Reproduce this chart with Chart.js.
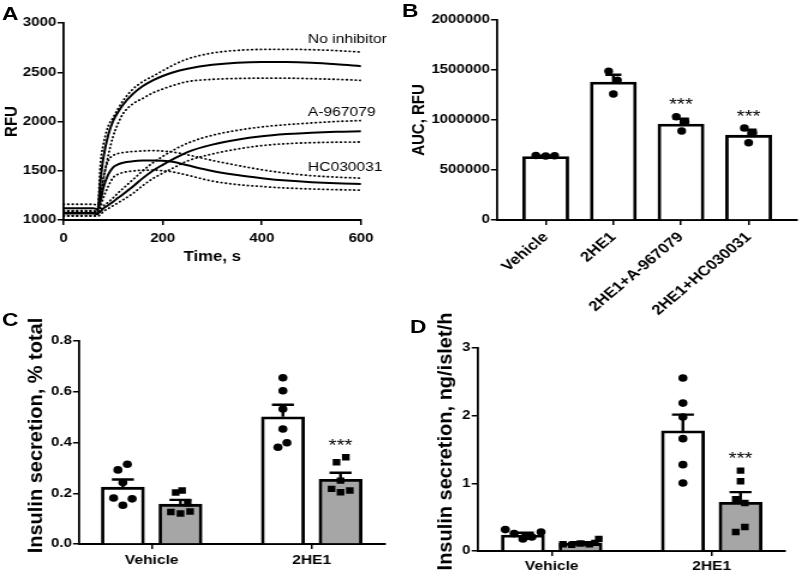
<!DOCTYPE html>
<html>
<head>
<meta charset="utf-8">
<script src="https://cdn.jsdelivr.net/npm/chart.js@4.4.0/dist/chart.umd.min.js"></script>
<style>
  html, body { margin: 0; padding: 0; background: #fff; }
  #page { position: relative; width: 800px; height: 574px; overflow: hidden; }
  /* the figure is horizontally stretched; draw narrow and widen */
  #page canvas { position: absolute; transform: scaleX(1.2); transform-origin: 0 0; }
  .tag { position: absolute; font: bold 19px 'Liberation Sans', Arial, sans-serif; line-height: 1; color: #000;
         transform: scaleX(1.2); transform-origin: left top; }
</style>
</head>
<body>
<div id="page">
  <canvas id="chartA" width="334" height="280" style="left:0;top:0"></canvas>
  <canvas id="chartB" width="334" height="320" style="left:400px;top:0"></canvas>
  <canvas id="chartC" width="334" height="274" style="left:0;top:300px"></canvas>
  <canvas id="chartD" width="334" height="274" style="left:400px;top:300px"></canvas>
  <div class="tag" style="left:2px;top:4px">A</div>
  <div class="tag" style="left:402px;top:1px">B</div>
  <div class="tag" style="left:2px;top:310px">C</div>
  <div class="tag" style="left:410px;top:317px">D</div>
</div>
<script>
// ---- Panel A: fluorescence traces (mean and +/- SD) ----
const timeS = [0, 60, 68, 75, 80, 90, 100, 110, 120, 140, 160, 180, 200, 220, 250, 300, 350, 400, 450, 500, 550, 600];
const noInhMean = [1070, 1070, 1065, 1420, 1620, 1860, 2005, 2095, 2170, 2280, 2360, 2418, 2462, 2498, 2535, 2575, 2597, 2605, 2604, 2596, 2581, 2562];
const noInhUp   = [1095, 1095, 1085, 1600, 1760, 1950, 2040, 2130, 2210, 2330, 2405, 2460, 2515, 2570, 2635, 2695, 2722, 2732, 2733, 2729, 2720, 2705];
const noInhLo   = [1045, 1045, 1045, 1250, 1400, 1650, 1850, 1980, 2080, 2180, 2235, 2290, 2330, 2365, 2405, 2428, 2437, 2440, 2440, 2435, 2428, 2418];
const a967Mean  = [1065, 1065, 1060, 1090, 1115, 1150, 1185, 1225, 1262, 1340, 1425, 1500, 1560, 1615, 1690, 1765, 1815, 1850, 1872, 1887, 1896, 1900];
const a967Up    = [1090, 1090, 1080, 1100, 1140, 1180, 1225, 1275, 1320, 1410, 1500, 1580, 1645, 1705, 1780, 1860, 1910, 1945, 1968, 1985, 2000, 2010];
const a967Lo    = [1040, 1040, 1040, 1055, 1085, 1115, 1145, 1175, 1205, 1270, 1350, 1420, 1475, 1525, 1600, 1670, 1720, 1755, 1775, 1785, 1790, 1792];
const hcMean    = [1120, 1120, 1110, 1200, 1320, 1460, 1535, 1565, 1582, 1596, 1603, 1605, 1602, 1592, 1555, 1497, 1456, 1425, 1400, 1383, 1372, 1366];
const hcUp      = [1160, 1160, 1150, 1260, 1420, 1600, 1655, 1675, 1685, 1695, 1702, 1705, 1700, 1690, 1662, 1605, 1555, 1510, 1475, 1450, 1435, 1425];
const hcLo      = [1080, 1080, 1075, 1140, 1220, 1340, 1430, 1465, 1482, 1498, 1505, 1507, 1500, 1488, 1455, 1395, 1360, 1340, 1325, 1315, 1308, 1303];
const traceNames = ['No inhibitor', 'A-967079', 'HC030031'];
const traceNameAt = [[493, 2834], [493, 2090], [493, 1530]]; // [time, RFU] where each name sits

// ---- Panel B: AUC ----
const groupsB = ['Vehicle', '2HE1', '2HE1+A-967079', '2HE1+HC030031'];
const aucMean = [635000, 1380000, 960000, 848000];
const aucSem  = [8000, 73000, 53000, 55000];
const aucPts  = [[645000, 640000, 642000], [1487000, 1397000, 1260000], [1033000, 980000, 890000], [920000, 873000, 773000]];
const aucSig  = ['', '', '***', '***'];
const jitB    = [[-0.147, 0, 0.132], [-0.07, 0.06, 0], [-0.07, 0.06, 0.01], [-0.063, 0.063, 0]];

// ---- Panels C and D: insulin secretion (white = without, grey = with inhibitor) ----
const groupsCD = ['Vehicle', '2HE1'];
const pctWMean = [0.224, 0.501];
const pctWSem  = [0.030, 0.048];
const pctWPts  = [[0.292, 0.314, 0.242, 0.181, 0.178, 0.153], [0.655, 0.604, 0.532, 0.453, 0.381, 0.399]];
const pctGMean = [0.157, 0.255];
const pctGSem  = [0.017, 0.026];
const pctGPts  = [[0.203, 0.211, 0.160, 0.126, 0.120, 0.128], [0.322, 0.342, 0.250, 0.217, 0.204, 0.211]];
const pctGSig  = ['', '***'];
const ngWMean  = [0.235, 1.775];
const ngWSem   = [0.035, 0.24];
const ngWPts   = [[0.316, 0.257, 0.177, 0.207, 0.281, 0.22], [2.556, 2.186, 1.98, 1.66, 1.276, 1.004]];
const ngGMean  = [0.115, 0.72];
const ngGSem   = [0.015, 0.15];
const ngGPts   = [[0.10, 0.09, 0.11, 0.10, 0.12, 0.177], [1.187, 1.03, 0.764, 0.71, 0.355, 0.281]];
const ngGSig   = ['', '***'];
const jitCW = [[-0.031, 0.028, 0, -0.058, 0.058, 0], [0, 0, 0, 0, -0.031, 0.025]];
const jitCG = [[-0.03, 0.01, 0.045, -0.06, 0, 0.06], [-0.025, 0.033, 0, -0.056, 0, 0.058]];
const jitDW = [[-0.11, -0.055, 0, 0.056, 0.113, 0.03], [0, 0, 0, 0, 0, 0]];
const jitDG = [[-0.11, -0.055, 0, 0.055, 0.09, 0.114], [0, 0, -0.03, 0.027, 0.027, -0.03]];

const FONT = "'Liberation Sans', Arial, sans-serif";
Chart.defaults.font.family = FONT;
Chart.defaults.color = '#000';
Chart.defaults.animation = false;
Chart.defaults.plugins.legend.display = false;
Chart.defaults.plugins.tooltip.enabled = false;

const S = 1.2;          // horizontal stretch applied by CSS
const W = 334;          // canvas width before stretch
const GREY = '#a6a6a6';
const SIDE = 0.18;      // half distance between paired bars, in group units
const TICK = 12.5;      // tick label size

// error bars (upward SEM) drawn right after their bar dataset
const errorBars = {
  id: 'errorBars',
  afterDatasetDraw(chart, args) {
    const ds = chart.data.datasets[args.index];
    if (!ds.sem) return;
    const ctx = chart.ctx, y = chart.scales.y;
    ctx.save();
    ctx.strokeStyle = '#000';
    ctx.lineWidth = 2.4;
    args.meta.data.forEach((bar, j) => {
      const top = y.getPixelForValue(ds.data[j].y + ds.sem[j]);
      ctx.beginPath();
      ctx.moveTo(bar.x, bar.y);
      ctx.lineTo(bar.x, top);
      ctx.moveTo(bar.x - ds.capW / 2, top);
      ctx.lineTo(bar.x + ds.capW / 2, top);
      ctx.stroke();
    });
    ctx.restore();
  }
};

// significance stars above the highest mark of a bar
const starMarks = {
  id: 'starMarks',
  afterDraw(chart) {
    const ctx = chart.ctx, y = chart.scales.y;
    chart.data.datasets.forEach((ds, i) => {
      if (!ds.stars) return;
      chart.getDatasetMeta(i).data.forEach((bar, j) => {
        if (!ds.stars[j]) return;
        const hi = Math.max(ds.data[j].y + ds.sem[j], ...ds.pts[j]);
        ctx.save();
        ctx.font = '17px ' + FONT;
        ctx.textAlign = 'center';
        ctx.textBaseline = 'middle';
        ctx.fillStyle = '#000';
        ctx.fillText(ds.stars[j], bar.x, y.getPixelForValue(hi) - 11);
        ctx.restore();
      });
    });
  }
};

// long rotated y title, a little above the plot's middle and not widened
const sideTitle = {
  id: 'sideTitle',
  afterDraw(chart, args, opts) {
    if (!opts.text) return;
    const ctx = chart.ctx, a = chart.chartArea;
    ctx.save();
    ctx.translate(opts.x, (a.top + a.bottom) / 2 - opts.lift);
    ctx.scale(1 / S, 1);
    ctx.rotate(-Math.PI / 2);
    ctx.font = 'bold ' + opts.size + 'px ' + FONT;
    ctx.textAlign = 'center';
    ctx.textBaseline = 'middle';
    ctx.fillStyle = '#000';
    ctx.fillText(opts.text, 0, 0);
    ctx.restore();
  }
};

function yAxis(o) {
  return {
    min: o.min, max: o.max,
    afterFit: s => { s.width = o.width; },
    border: { display: true, color: '#000', width: 1.8 },
    grid: { drawOnChartArea: false, drawTicks: true, tickLength: 5, color: '#000', lineWidth: 1.5 },
    ticks: { stepSize: o.step, padding: 1, font: { size: TICK, weight: 'bold' }, callback: o.fmt },
    title: { display: !!o.title, text: o.title, font: { size: o.titleSize, weight: 'bold' }, padding: { top: o.titlePad, bottom: 0 } }
  };
}

function xGroups(labels, min, max, height, pad, rotate, size) {
  return {
    type: 'linear', min, max, offset: false,
    afterFit: s => { s.height = height; },
    afterBuildTicks: s => { s.ticks = labels.map((_, i) => ({ value: i })); },
    border: { display: true, color: '#000', width: 2 },
    grid: { drawOnChartArea: false, drawTicks: true, tickLength: 5, color: '#000', lineWidth: 1.5, offset: false },
    ticks: {
      autoSkip: false, padding: pad, font: { size, weight: 'bold' },
      minRotation: rotate, maxRotation: rotate,
      callback: v => labels[v]
    }
  };
}

function barSet(xs, means, sems, pts, stars, fill, thick, cap) {
  return {
    type: 'bar',
    data: xs.map((x, i) => ({ x, y: means[i] })),
    backgroundColor: fill, borderColor: '#000', borderWidth: 2.8,
    barThickness: thick, grouped: false,
    sem: sems, pts, stars, capW: cap
  };
}

function dotSet(xs, pts, jit, style, r) {
  const data = [];
  pts.forEach((g, i) => g.forEach((v, k) => data.push({ x: xs[i] + jit[i][k], y: v })));
  return { type: 'scatter', data, pointStyle: style, pointRadius: r, pointHoverRadius: r,
           backgroundColor: '#000', borderColor: '#000', borderWidth: 0 };
}

// ---- A ----
function trace(vals, solid) {
  return {
    data: timeS.map((t, i) => ({ x: t, y: vals[i] })),
    borderColor: '#000', borderWidth: solid ? 2 : 1.8,
    borderDash: solid ? [] : [0.5, 3.2], borderCapStyle: solid ? 'butt' : 'round',
    pointRadius: 0, cubicInterpolationMode: 'monotone', fill: false
  };
}

const traceNotes = {
  id: 'traceNotes',
  afterDraw(chart) {
    const ctx = chart.ctx, x = chart.scales.x, y = chart.scales.y;
    ctx.save();
    ctx.font = '13px ' + FONT;
    ctx.fillStyle = '#000';
    ctx.textBaseline = 'middle';
    traceNames.forEach((name, i) => {
      ctx.fillText(name, x.getPixelForValue(traceNameAt[i][0]), y.getPixelForValue(traceNameAt[i][1]));
    });
    ctx.restore();
  }
};

new Chart(document.getElementById('chartA'), {
  type: 'line',
  data: {
    datasets: [
      trace(noInhMean, true), trace(noInhUp, false), trace(noInhLo, false),
      trace(a967Mean, true), trace(a967Up, false), trace(a967Lo, false),
      trace(hcMean, true), trace(hcUp, false), trace(hcLo, false)
    ]
  },
  options: {
    responsive: false,
    layout: { padding: { top: 23, right: W - 361 / S, left: 0, bottom: 0 } },
    scales: {
      x: {
        type: 'linear', min: 0, max: 600,
        afterFit: s => { s.height = 60; },
        border: { display: true, color: '#000', width: 2 },
        grid: { drawOnChartArea: false, drawTicks: true, tickLength: 5, color: '#000', lineWidth: 1.5 },
        ticks: { stepSize: 200, padding: 6, maxRotation: 0, font: { size: TICK, weight: 'bold' } },
        title: { display: true, text: 'Time, s', font: { size: 14, weight: 'bold' }, padding: { top: 0, bottom: 14 } }
      },
      y: yAxis({ min: 1000, max: 3000, step: 500, width: 63.5 / S, title: 'RFU', titleSize: 15, titlePad: 0.5, fmt: v => String(v) })
    }
  },
  plugins: [traceNotes]
});

// ---- B ----
const xsB = groupsB.map((_, i) => i);
new Chart(document.getElementById('chartB'), {
  type: 'bar',
  data: {
    datasets: [
      dotSet(xsB, aucPts, jitB, 'circle', 3.7),
      barSet(xsB, aucMean, aucSem, aucPts, aucSig, '#fff', 46 / S, 16 / S)
    ]
  },
  options: {
    responsive: false,
    layout: { padding: { top: 20, right: W - 398 / S, left: 0, bottom: 0 } },
    scales: {
      x: xGroups(groupsB, -0.72, 3.706, 100, 4, 45, 14),
      y: yAxis({ min: 0, max: 2000000, step: 500000, width: 97 / S, title: 'AUC, RFU', titleSize: 15, titlePad: 7, fmt: v => String(v) })
    }
  },
  plugins: [errorBars, starMarks]
});

// ---- C and D ----
function pairedPanel(id, wMean, wSem, wPts, jW, gMean, gSem, gPts, jG, gSig, y, x, pad, title) {
  const xsW = groupsCD.map((_, i) => i - SIDE);
  const xsG = groupsCD.map((_, i) => i + SIDE);
  new Chart(document.getElementById(id), {
    type: 'bar',
    data: {
      datasets: [
        dotSet(xsW, wPts, jW, 'circle', 3.8),
        dotSet(xsG, gPts, jG, 'rect', 4.5),
        barSet(xsW, wMean, wSem, wPts, null, '#fff', 43 / S, 22 / S),
        barSet(xsG, gMean, gSem, gPts, gSig, GREY, 43 / S, 22 / S)
      ]
    },
    options: {
      responsive: false,
      layout: { padding: pad },
      scales: { x, y },
      plugins: { sideTitle: title }
    },
    plugins: [errorBars, starMarks, sideTitle]
  });
}

pairedPanel('chartC', pctWMean, pctWSem, pctWPts, jitCW, pctGMean, pctGSem, pctGPts, jitCG, pctGSig,
  yAxis({ min: 0, max: 0.8, step: 0.2, width: 79 / S, fmt: v => v.toFixed(1) }),
  xGroups(groupsCD, -0.454, 1.458, 30, 4, 0, 13),
  { top: 41, right: W - 385 / S, left: 0, bottom: 0 },
  { text: 'Insulin secretion, % total', size: 20, x: 36.5 / S, lift: 7 });

pairedPanel('chartD', ngWMean, ngWSem, ngWPts, jitDW, ngGMean, ngGSem, ngGPts, jitDG, ngGSig,
  yAxis({ min: 0, max: 3, step: 1, width: 77.7 / S, fmt: v => String(v) }),
  xGroups(groupsCD, -0.4625, 1.458, 23, 3, 0, 13),
  { top: 48, right: W - 385 / S, left: 0, bottom: 0 },
  { text: 'Insulin secretion, ng/islet/h', size: 20, x: 46.5 / S, lift: 8 });
</script>
</body>
</html>
